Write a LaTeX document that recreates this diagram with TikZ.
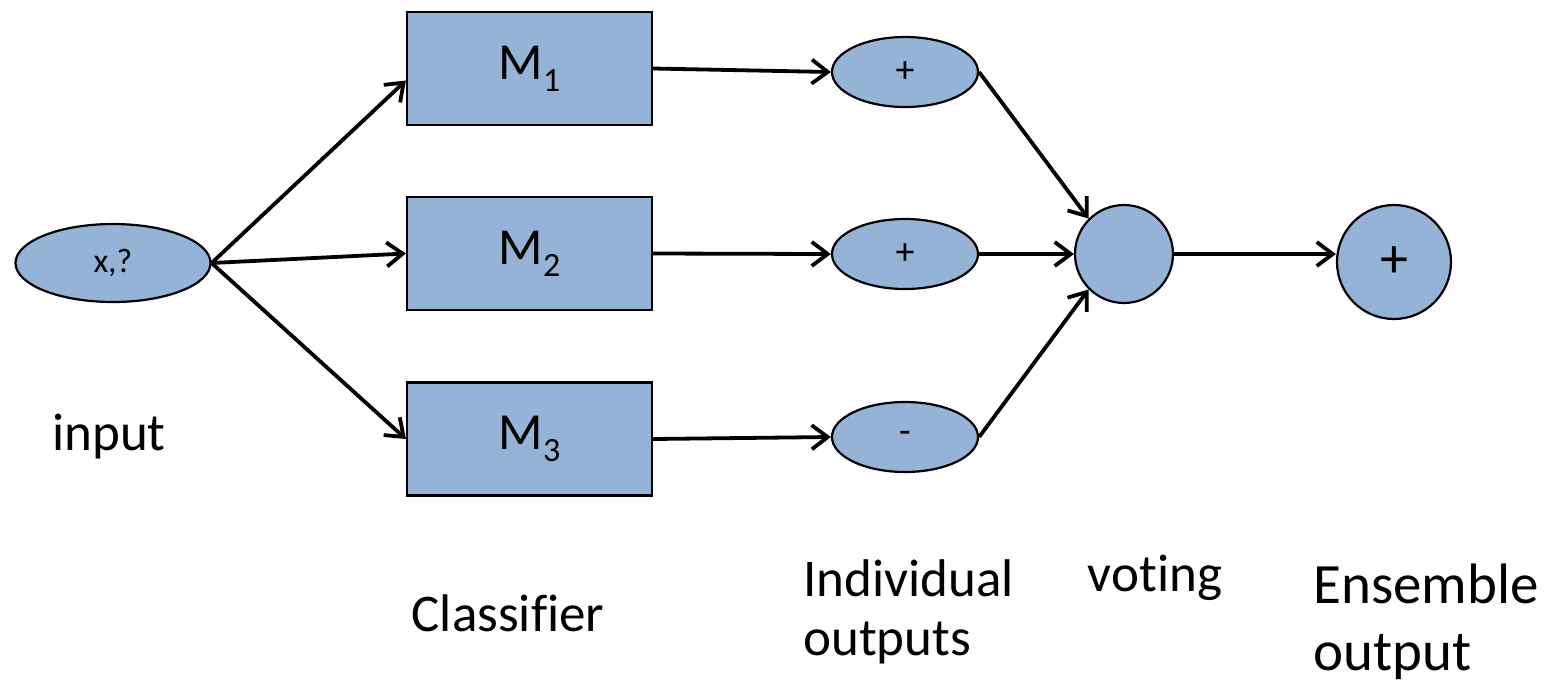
\documentclass[tikz,border=0pt]{standalone}
\usepackage{fontspec}
\setmainfont{Carlito}[Ligatures=NoCommon]
\usetikzlibrary{arrows.meta,shapes.geometric,calc}
\definecolor{nodeblue}{RGB}{149,179,215}
\newcommand{\Msub}[1]{M{\fontsize{17}{17}\selectfont\raisebox{-6pt}{#1}}}
\begin{document}
\begin{tikzpicture}[x=0.5pt,y=-0.5pt,
  blob/.style={draw=black,line width=1.1pt,fill=nodeblue,inner sep=0pt},
  model/.style={blob,rectangle,minimum width=122.5pt,minimum height=56.5pt,font=\fontsize{26}{30}\selectfont},
  vote/.style={blob,ellipse,minimum width=73pt,minimum height=35pt,font=\fontsize{19}{21}\selectfont},
  flow/.style={line width=1.9pt,-{Straight Barb[length=8pt,width=12pt,line width=1.9pt]}},
  caption/.style={inner sep=0pt,align=left,font=\fontsize{26.5}{29.5}\selectfont}]
\useasboundingbox (0,0) rectangle (1549,682);

% input sample
\node[blob,ellipse,minimum width=97.5pt,minimum height=39pt,font=\fontsize{17}{19}\selectfont] (in) at (113,263) {x,?};

% base classifiers
\node[model] (m1) at (529.5,68.5) {\Msub{1}};
\node[model] (m2) at (529.5,253.5) {\Msub{2}};
\node[model] (m3) at (529.5,439) {\Msub{3}};

% individual predictions
\node[vote] (o1) at (905,72) {+};
\node[vote] (o2) at (905,254) {+};
\node[vote] (o3) at (905,437) {-};

% voting and final prediction
\node[blob,circle,minimum size=49pt] (v) at (1124,254) {};
\node[blob,circle,minimum size=57pt,font=\fontsize{28}{30}\selectfont] (ens) at (1394,262) {+};

% connectors
\draw[flow] (in.east) -- ($(m1.west)+(0,12)$);
\draw[flow] (in.east) -- (m2.west);
\draw[flow] (in.east) -- (m3.west);
\draw[flow] (m1.east) -- (o1.west);
\draw[flow] (m2.east) -- (o2.west);
\draw[flow] (m3.east) -- (o3.west);
\draw[flow] (o1.east) -- (v.135);
\draw[flow] (o2.east) -- (v.west);
\draw[flow] (o3.east) -- (v.225);
\draw[flow] (v.east) -- (v.east -| ens.west);

% captions
\node[caption] (lin) at (109,437) {input};
\node[caption] (lcl) at (508,613) {Classifier};
\node[caption,anchor=west] (lind) at (803,612) {Individual\\outputs};
\node[caption] (lvot) at (1155,578) {voting};
\node[caption,anchor=west,font=\fontsize{28.5}{33.5}\selectfont] (lens) at (1313,622) {Ensemble\\output};
\end{tikzpicture}
\end{document}
